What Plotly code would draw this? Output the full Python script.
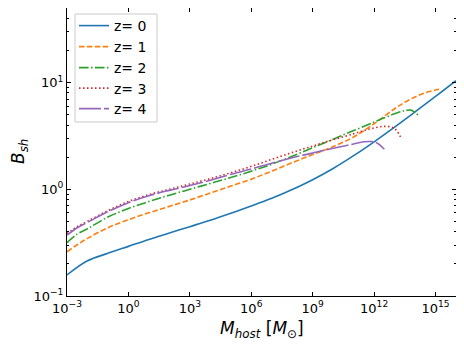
import numpy as np
import plotly.graph_objects as go

# log10(M_host) and log10(B_sh)
x_z0 = [-3, -2, -1, 0, 1, 2, 3, 4, 5, 6, 7, 8, 9, 10, 11, 12, 13, 14, 15, 16]
y_z0 = [-0.803, -0.67, -0.60, -0.535, -0.47, -0.41, -0.35, -0.29, -0.225, -0.157,
        -0.085, -0.002, 0.09, 0.195, 0.315, 0.445, 0.582, 0.725, 0.87, 1.018]

x_z1 = [-3, -2.5, -2, -1, 0, 1, 2, 3, 4, 5, 6, 7, 8, 9, 10, 11, 12, 13, 13.5, 14, 14.5, 15, 15.2]
y_z1 = [-0.585, -0.52, -0.46, -0.36, -0.285, -0.22, -0.16, -0.10, -0.035, 0.03, 0.095,
        0.17, 0.25, 0.325, 0.40, 0.49, 0.615, 0.755, 0.815, 0.865, 0.905, 0.93, 0.94]

x_z2 = [-3, -2.5, -2, -1, 0, 1, 2, 3, 4, 5, 6, 7, 8, 9, 10, 11, 12, 12.5, 13, 13.5, 13.8, 14, 14.2]
y_z2 = [-0.50, -0.42, -0.37, -0.26, -0.18, -0.115, -0.055, 0.0, 0.055, 0.11, 0.17,
        0.235, 0.31, 0.39, 0.47, 0.55, 0.63, 0.67, 0.707, 0.737, 0.742, 0.72, 0.685]

x_z3 = [-3, -2.5, -2, -1, 0, 1, 2, 3, 4, 5, 6, 7, 8, 9, 10, 11, 11.5, 12, 12.5, 12.9, 13.1, 13.35]
y_z3 = [-0.415, -0.35, -0.30, -0.20, -0.115, -0.05, 0.0, 0.05, 0.10, 0.155, 0.215, 0.28,
        0.345, 0.405, 0.465, 0.52, 0.55, 0.575, 0.59, 0.58, 0.55, 0.47]

x_z4 = [-3, -2.5, -2, -1, 0, 1, 2, 3, 4, 5, 6, 7, 8, 9, 10, 11, 11.5, 12, 12.25, 12.5]
y_z4 = [-0.43, -0.36, -0.31, -0.21, -0.125, -0.06, -0.01, 0.035, 0.085, 0.14, 0.19, 0.245,
        0.295, 0.34, 0.385, 0.425, 0.445, 0.445, 0.42, 0.375]

labels = ["z= 0", "z= 1", "z= 2", "z= 3", "z= 4"]

x_tickvals = [1e-3, 1e0, 1e3, 1e6, 1e9, 1e12, 1e15]
x_ticktext = ["10<sup>\u22123</sup>", "10<sup>0</sup>", "10<sup>3</sup>", "10<sup>6</sup>",
              "10<sup>9</sup>", "10<sup>12</sup>", "10<sup>15</sup>"]
y_tickvals = [0.1, 1, 10]
y_ticktext = ["10<sup>\u22121</sup>", "10<sup>0</sup>", "10<sup>1</sup>"]

x_title = "<i>M</i><sub><i>host</i></sub> [<i>M</i><sub>\u2299</sub>]"
y_title = "<i>B</i><sub><i>sh</i></sub>"

colors = ["#1f77b4", "#ff7f0e", "#2ca02c", "#d62728", "#9467bd"]
dashes = ["solid", "5.5px,2.4px", "9.6px,2.4px,1.5px,2.4px", "1.5px,2.5px", "22px,3px"]

series = [(x_z0, y_z0), (x_z1, y_z1), (x_z2, y_z2), (x_z3, y_z3), (x_z4, y_z4)]
legend_ids = ["legend", "legend2", "legend3", "legend4", "legend5"]

fig = go.Figure()
for (xs, ys), lab, c, d, lg in zip(series, labels, colors, dashes, legend_ids):
    fig.add_trace(go.Scatter(
        x=np.power(10.0, np.array(xs, dtype=float)),
        y=np.power(10.0, np.array(ys, dtype=float)), mode="lines", name=lab,
        legend=lg,
        line=dict(color=c, width=1.6, dash=d, shape="spline", smoothing=1.0)))

y_minor = [m * 10.0 ** k for k in range(-1, 2) for m in range(2, 10)]

# page body has an 8px default margin, so the figure is drawn 8px in from top/left
plot_h = 288.0
entry_centers = [18, 39, 60, 80.5, 101]  # px from plot top
legend_layout = {}
for lg, cy in zip(legend_ids, entry_centers):
    legend_layout[lg] = dict(x=0.018, y=1 - cy / plot_h, xanchor="left", yanchor="middle",
                             bgcolor="rgba(0,0,0,0)", borderwidth=0,
                             font=dict(size=14), itemwidth=30)

fig.update_layout(
    width=456, height=337,
    margin=dict(l=59, r=8, t=0, b=49, autoexpand=False),
    paper_bgcolor="white", plot_bgcolor="white",
    font=dict(family="DejaVu Sans", size=13, color="black"),
    showlegend=True,
    xaxis=dict(type="log", range=[-3, 16], tickmode="array",
               tickvals=x_tickvals, ticktext=x_ticktext, automargin=False,
               ticks="inside", ticklen=4, tickcolor="black", mirror="allticks",
               showline=True, linecolor="black", linewidth=1, showgrid=False,
               zeroline=False, tickfont=dict(size=13)),
    yaxis=dict(type="log", range=[-1, np.log10(50)], tickmode="array",
               tickvals=y_tickvals, ticktext=y_ticktext, automargin=False,
               ticks="inside", ticklen=4, tickcolor="black", mirror="allticks",
               showline=True, linecolor="black", linewidth=1, showgrid=False,
               zeroline=False, tickfont=dict(size=13),
               minor=dict(tickmode="array", tickvals=y_minor, ticks="inside",
                          ticklen=2, tickcolor="black", showgrid=False)),
    shapes=[dict(type="rect", xref="paper", yref="paper", layer="above",
                 x0=8 / 389, x1=90 / 389, y0=1 - 114 / plot_h, y1=1 - 6 / plot_h,
                 line=dict(color="#cccccc", width=1), fillcolor="rgba(255,255,255,0.8)")],
    annotations=[
        dict(text=x_title, xref="paper", yref="paper", x=0.5, y=0, yshift=-33,
             xanchor="center", yanchor="middle", showarrow=False, font=dict(size=17)),
        dict(text=y_title, xref="paper", yref="paper", x=0, y=0.5, xshift=-48,
             xanchor="center", yanchor="middle", textangle=-90, showarrow=False,
             font=dict(size=17)),
    ],
    **legend_layout,
)

fig.write_html("out.html")
